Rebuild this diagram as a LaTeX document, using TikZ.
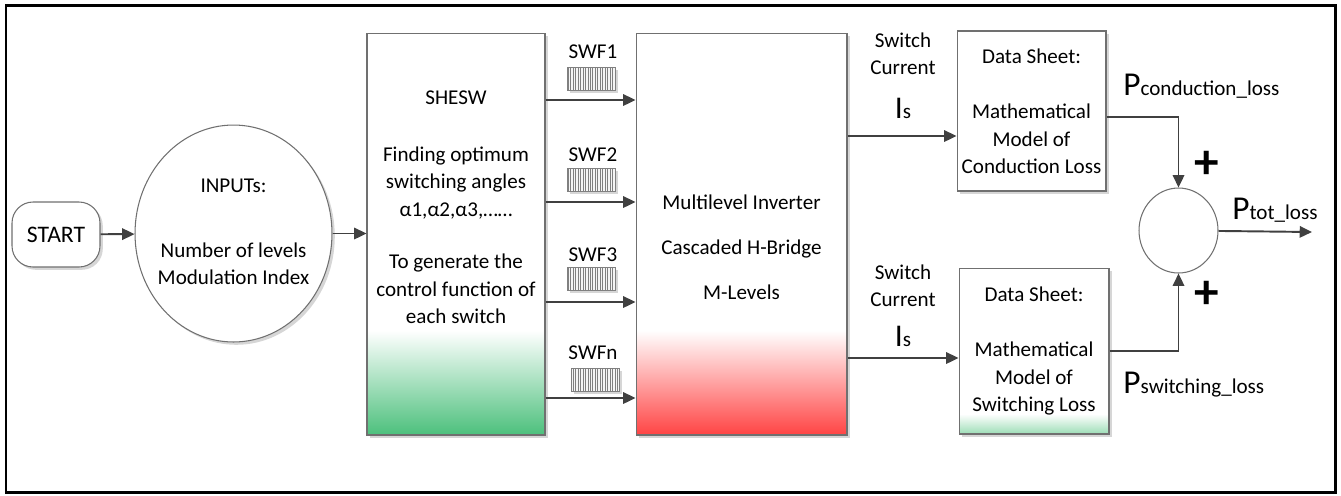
\documentclass[tikz,border=0pt]{standalone}
\usepackage{fontspec}
\setmainfont{Carlito}
\usepackage{tikz}
\usetikzlibrary{arrows.meta,shapes.geometric,shadows,patterns.meta,positioning}

\definecolor{lineGray}{HTML}{404040}
\definecolor{boxGray}{HTML}{707070}
\definecolor{shadowGray}{HTML}{D6D6D6}
\definecolor{footGreen}{HTML}{4CC07C}
\definecolor{footRed}{HTML}{FF4444}
\definecolor{paleGreen}{HTML}{9CDDB6}

\pgfdeclareverticalshading{greenfoot}{100bp}{color(0bp)=(footGreen); color(25bp)=(footGreen); color(38bp)=(white); color(100bp)=(white)}
\pgfdeclareverticalshading{redfoot}{100bp}{color(0bp)=(footRed); color(25bp)=(footRed); color(38bp)=(white); color(100bp)=(white)}
\pgfdeclareverticalshading{palefoot}{100bp}{color(0bp)=(paleGreen); color(25bp)=(paleGreen); color(31bp)=(white); color(100bp)=(white)}

\begin{document}
\begin{tikzpicture}[x=0.02cm,y=-0.02cm,
  txt/.style={font=\fontsize{12}{15.6}\selectfont,align=center,inner sep=0pt},
  dropsh/.style={drop shadow={shadow xshift=1.6pt,shadow yshift=-1.6pt,fill=shadowGray,opacity=1}},
  blk/.style={draw=boxGray,line width=0.6pt,fill=white,inner sep=0pt,dropsh},
  flow/.style={draw=lineGray,line width=1.1pt,-{Triangle[length=7pt,width=6.5pt]}},
  swf/.style={draw=gray,line width=0.4pt,fill=gray!8,minimum width=0.96cm,minimum height=0.46cm,inner sep=0pt,dropsh,
    postaction={pattern={Lines[angle=90,distance=1.4pt,line width=0.4pt]},pattern color=gray}},
  plus/.style={font=\fontsize{28}{28}\selectfont\bfseries,inner sep=0pt}]
\def\Pbig{{\fontsize{19}{19}\selectfont P}}
\def\Ibig{{\fontsize{18}{18}\selectfont I}}
\useasboundingbox (0,0) rectangle (1341,495);
\draw[line width=1.7pt] (6,5) rectangle (1335,492);

\node[blk,rounded corners=0.42cm,minimum width=1.76cm,minimum height=1.3cm,font=\fontsize{13.5}{16}\selectfont] (start) at (56,234.5) {START};
\node[blk,ellipse,minimum width=3.94cm,minimum height=4.34cm] (inputs) at (233.5,233.5) {};
\node[txt] (inputsTxt) at (233.5,232) {INPUTs:\\[21pt]Number of levels\\Modulation Index};

\node[blk,shading=greenfoot,minimum width=3.56cm,minimum height=8.04cm] (shesw) at (456,234) {};
\node[txt] (sheswTitle) at (456,98) {SHESW};
\node[txt] (sheswFind) at (456,183) {Finding optimum\\switching angles\\α1,α2,α3,……};
\node[txt] (sheswGen) at (456,289) {To generate the\\control function of\\each switch};

\node[blk,shading=redfoot,minimum width=4.22cm,minimum height=8.04cm] (mli) at (741.5,234) {};
\node[txt] (mliTxt) at (741.5,247) {Multilevel Inverter\\[10pt]Cascaded H-Bridge\\[10pt]M-Levels};

\node[blk,txt,minimum width=2.98cm,minimum height=3.2cm] (ds1) at (1031.5,111) {Data Sheet:\\[16pt]Mathematical\\Model of\\Conduction Loss};
\node[blk,txt,shading=palefoot,minimum width=3cm,minimum height=3.32cm] (ds2) at (1034,351) {Data Sheet:\\[16pt]Mathematical\\Model of\\Switching Loss};

\node[draw=boxGray,line width=0.6pt,fill=white,ellipse,minimum width=1.58cm,minimum height=1.7cm,inner sep=0pt] (sum) at (1178.5,230.5) {};

\foreach \k/\yl/\yi/\xi/\ya/\lab in {1/52/79/591/100/SWF1,2/155/180/591/202/SWF2,3/255/279/591/302/SWF3,4/353/380/595/398/SWFn}{
  \node[txt] (swfLab\k) at (593,\yl) {\lab};
  \node[swf] (swfIcon\k) at (\xi,\yi) {};
  \coordinate (sw\k) at (0,\ya);
  \draw[flow] (shesw.east |- sw\k) -- (mli.west |- sw\k);
}

\node[txt] (curLab1) at (903,53.5) {Switch\\Current};
\node[txt] (is1) at (903,108) {\Ibig s};
\node[txt] (curLab2) at (903,286) {Switch\\Current};
\node[txt] (is2) at (903,336) {\Ibig s};

\node[txt,anchor=base west] (pCond) at (1123,95) {\Pbig conduction\_loss};
\node[txt,anchor=base west] (pSw) at (1123,393) {\Pbig switching\_loss};
\node[txt,anchor=base west] (pTot) at (1232,219) {\Pbig tot\_loss};
\node[plus] (plus1) at (1207,165) {+};
\node[plus] (plus2) at (1207,295) {+};

\coordinate (cur1) at (0,136);
\coordinate (cur2) at (0,358);
\coordinate (loss1) at (0,117);
\coordinate (loss2) at (0,351);
\coordinate (out) at (1312,232);

\draw[flow] (start) -- (inputs);
\draw[flow] (inputs) -- (shesw.west |- inputs);
\draw[flow] (mli.east |- cur1) -- (ds1.west |- cur1);
\draw[flow] (mli.east |- cur2) -- (ds2.west |- cur2);
\draw[flow] (ds1.east |- loss1) -| (sum.north);
\draw[flow] (ds2.east |- loss2) -| (sum.south);
\draw[flow] (sum) -- (out);
\end{tikzpicture}
\end{document}
